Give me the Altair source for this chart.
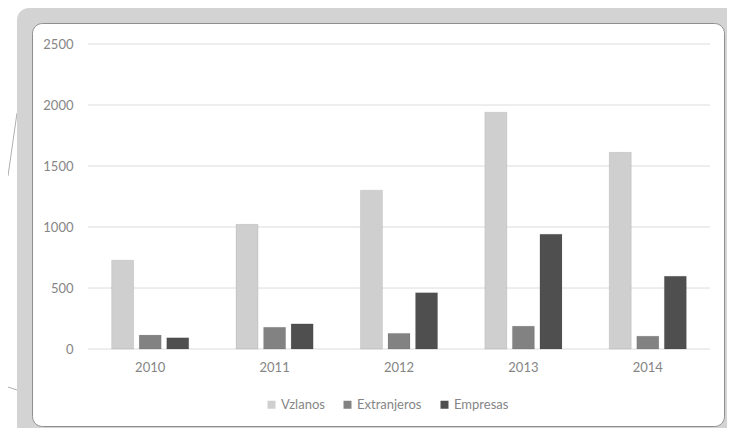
import altair as alt
import pandas as pd

years = ["2010", "2011", "2012", "2013", "2014"]
series = ["Vzlanos", "Extranjeros", "Empresas"]
vzlanos = [728, 1022, 1302, 1941, 1612]
extranjeros = [114, 178, 128, 187, 105]
empresas = [92, 206, 461, 941, 597]
colors = ["#cfcfd0", "#828282", "#4f4f50"]
ticks = [0, 500, 1000, 1500, 2000, 2500]

rows = []
for i, y in enumerate(years):
    for s, vals in zip(series, [vzlanos, extranjeros, empresas]):
        rows.append({"year": y, "serie": s, "value": vals[i]})
df = pd.DataFrame(rows)
one = pd.DataFrame({"a": [0]})
grid_df = pd.DataFrame({"t": ticks})

FONT = "Lato"
LABEL = "#858585"

deco1 = alt.Chart(one).mark_rule(color="#9a9a9a", strokeWidth=0.8).encode(
    x=alt.value(-71), x2=alt.value(-80), y=alt.value(69), y2=alt.value(132)
)
deco2 = alt.Chart(one).mark_rule(color="#9a9a9a", strokeWidth=0.8).encode(
    x=alt.value(-80), x2=alt.value(-71), y=alt.value(343), y2=alt.value(346)
)
frame = alt.Chart(one).mark_rect(color="#d3d3d4", cornerRadius=12).encode(
    x=alt.value(-71), x2=alt.value(660), y=alt.value(-36), y2=alt.value(410)
)
panel = alt.Chart(one).mark_rect(
    fill="#ffffff", stroke="#8f8f8f", strokeWidth=1, cornerRadius=10
).encode(
    x=alt.value(-55.5), x2=alt.value(636.5), y=alt.value(-20.5), y2=alt.value(382.5)
)

yscale = alt.Scale(domain=[0, 2500], nice=False)
yaxis = alt.Axis(
    title=None, values=ticks, format="d", ticks=False, domain=False, grid=False,
    labelFont=FONT, labelFontSize=13, labelColor=LABEL, labelPadding=15,
    zindex=1,
)

grid = alt.Chart(grid_df).mark_rule(color="#dcdcdc", strokeWidth=1).encode(
    y=alt.Y("t:Q", scale=yscale, axis=yaxis)
)

bars = alt.Chart(df).mark_bar(stroke="#000000", strokeOpacity=0.08, strokeWidth=1).encode(
    x=alt.X(
        "year:N",
        sort=years,
        scale=alt.Scale(paddingInner=0.38, paddingOuter=0.19),
        axis=alt.Axis(
            title=None, labelAngle=0, ticks=False, domain=False, grid=False,
            labelFont=FONT, labelFontSize=13, labelColor=LABEL, labelPadding=12,
            zindex=1,
        ),
    ),
    xOffset=alt.XOffset("serie:N", sort=series, scale=alt.Scale(paddingInner=0.2, paddingOuter=0)),
    y=alt.Y("value:Q", scale=yscale, axis=yaxis),
    color=alt.Color(
        "serie:N",
        sort=series,
        scale=alt.Scale(domain=series, range=colors),
        legend=alt.Legend(
            title=None, orient="none", direction="horizontal",
            legendX=177, legendY=354,
            symbolType="square", symbolSize=64, symbolStrokeWidth=0,
            labelFont=FONT, labelFontSize=13, labelColor=LABEL,
            labelOffset=3, columnPadding=16,
        ),
    ),
)

chart = alt.layer(deco1, deco2, frame, panel, grid, bars).resolve_scale(y="shared").properties(
    width=622,
    height=305,
    autosize=alt.AutoSizeParams(type="none"),
    padding={"left": 80, "top": 36, "right": 17, "bottom": 79},
    background="#ffffff",
).configure_view(stroke=None)

chart.save("out.html", embed_options={"renderer": "svg", "actions": False})
